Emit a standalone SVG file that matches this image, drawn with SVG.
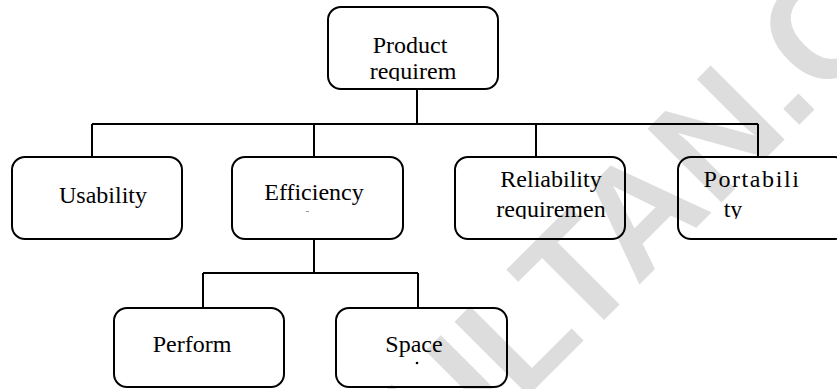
<svg xmlns="http://www.w3.org/2000/svg" width="837" height="389" viewBox="0 0 837 389">
  <style>
    .box { fill: none; stroke: #000; stroke-width: 2; }
    .wire { fill: none; stroke: #000; stroke-width: 2; }
    .lbl { font-family: "Liberation Serif", "Times New Roman", serif; font-size: 24px; fill: #000; text-anchor: middle; }
    .mark { font-family: "Liberation Sans", Arial, sans-serif; font-weight: bold; font-size: 152px; fill: #dddddd; }
  </style>
  <defs>
    <clipPath id="clip-product"><rect x="330" y="9" width="166" height="72"/></clipPath>
    <clipPath id="clip-reliability"><rect x="457" y="159" width="166" height="60"/></clipPath>
    <clipPath id="clip-portability"><rect x="680" y="159" width="156" height="60"/></clipPath>
  </defs>

  <rect width="837" height="389" fill="#fff"/>
  <!-- background stamp, rotated along the diagonal -->
  <text class="mark" transform="translate(372,552) rotate(-45)">SULTAN.COM</text>

  <g id="connectors">
    <path class="wire" d="M417 89 V124 M92 124 H758 M92 124 V157 M314 124 V157 M536 124 V157 M758 124 V157"/>
    <path class="wire" d="M314 239 V273 M203 273 H418 M203 273 V308 M418 273 V308"/>
  </g>

  <g id="product">
    <rect class="box" x="328" y="7" width="170" height="82" rx="13"/>
    <g clip-path="url(#clip-product)">
      <text class="lbl" x="410" y="53">Product</text>
      <text class="lbl" x="413" y="79">requirem</text>
    </g>
  </g>

  <g id="usability">
    <rect class="box" x="12" y="157" width="170" height="82" rx="13"/>
    <text class="lbl" x="103" y="203">Usability</text>
  </g>

  <g id="efficiency">
    <rect class="box" x="232" y="157" width="171" height="82" rx="13"/>
    <text class="lbl" x="314" y="200">Efficiency</text>
    <rect x="306" y="211" width="3" height="1" fill="#999"/>
  </g>

  <g id="reliability">
    <rect class="box" x="455" y="157" width="170" height="82" rx="13"/>
    <g clip-path="url(#clip-reliability)">
      <text class="lbl" x="551" y="187">Reliability</text>
      <text class="lbl" x="551" y="217">requiremen</text>
    </g>
  </g>

  <g id="portability">
    <rect class="box" x="678" y="157" width="170" height="82" rx="13"/>
    <g clip-path="url(#clip-portability)">
      <text class="lbl" x="752" y="187" letter-spacing="1.6">Portabili</text>
      <text class="lbl" x="733" y="217">ty</text>
    </g>
  </g>

  <g id="perform">
    <rect class="box" x="114" y="308" width="170" height="79" rx="13"/>
    <text class="lbl" x="192" y="352">Perform</text>
  </g>

  <g id="space">
    <rect class="box" x="336" y="308" width="171" height="79" rx="13"/>
    <text class="lbl" x="414" y="352">Space</text>
    <circle cx="417" cy="363" r="1.3" fill="#000"/>
  </g>
</svg>
